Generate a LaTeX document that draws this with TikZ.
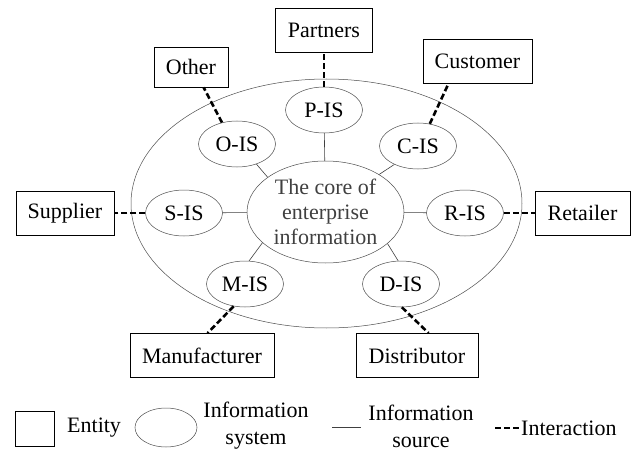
\documentclass[tikz,border=0pt]{standalone}
\usepackage{fontspec}
\setmainfont{Liberation Serif}
\usetikzlibrary{shapes.geometric}
\begin{document}
\begin{tikzpicture}[x=1pt,y=-1pt,
  every node/.style={font=\fontsize{22}{25}\selectfont, inner sep=0pt},
  entity/.style={draw=black, line width=0.8pt, rectangle, minimum height=44pt},
  isys/.style={draw=black!70, line width=0.5pt, ellipse, minimum width=77pt, minimum height=46pt},
  src/.style={draw=black!75, line width=0.6pt},
  inter/.style={draw=black, line width=2.6pt, dash pattern=on 6pt off 3pt}]
\useasboundingbox (0,0) rectangle (638,452);
% outer ellipse
\node[draw=black!70, line width=0.5pt, ellipse, minimum width=391pt, minimum height=249pt] (big) at (326.5,203.5) {};
% core
\node[isys, minimum width=157pt, minimum height=102pt, align=center, text=black!75] (core) at (325.5,212) {The core of\\enterprise\\information};
% information systems
\node[isys] (pis) at (324,110) {P-IS};
\node[isys] (ois) at (237,144) {O-IS};
\node[isys] (cis) at (418,146) {C-IS};
\node[isys] (sis) at (184,213) {S-IS};
\node[isys] (ris) at (465,213) {R-IS};
\node[isys] (mis) at (245,284) {M-IS};
\node[isys] (dis) at (401,284) {D-IS};
% entities
\node[entity, minimum width=97pt] (partners) at (324,30.5) {Partners};
\node[entity, minimum width=74pt, minimum height=40pt] (other) at (191,67) {Other};
\node[entity, minimum width=109pt] (customer) at (477.5,61) {Customer};
\node[entity, minimum width=98pt] (supplier) at (65,213) {Supplier};
\node[entity, minimum width=95pt] (retailer) at (582.5,213) {Retailer};
\node[entity, minimum width=144pt] (manufacturer) at (202,355.5) {Manufacturer};
\node[entity, minimum width=122pt] (distributor) at (417,355.5) {Distributor};
% information sources
\draw[src] (pis) -- (core);
\draw[src] (ois.-46) -- (core.149);
\draw[src] (cis.-142) -- (core.35);
\draw[src] (sis) -- (core);
\draw[src] (ris) -- (core);
\draw[src] (core.-154) -- (mis.80);
\draw[src] (core.-27) -- (dis.97);
% interactions
\draw[inter] (pis) -- (partners);
\draw[inter] (ois.125) -- ([xshift=50pt]other.south west);
\draw[inter] (cis.62) -- ([xshift=26pt]customer.south west);
\draw[inter] (sis) -- (supplier);
\draw[inter] (ris) -- (retailer);
\draw[inter] (mis.-117) -- ([xshift=78pt]manufacturer.north west);
\draw[inter] (dis.-88) -- ([xshift=73pt]distributor.north west);
% legend
\node[entity, minimum width=39pt, minimum height=35pt] (lgbox) at (35,428.5) {};
\node[anchor=west] (lgentity) at (67,428) {Entity};
\node[isys, minimum width=62pt, minimum height=39pt] (lgell) at (166,427.5) {};
\node[align=center, font=\fontsize{22}{27}\selectfont] (lgsys) at (256,426) {Information\\system};
\coordinate (lgsa) at (332,427);
\coordinate (lgsb) at (361,427);
\draw[src] (lgsa) -- (lgsb);
\node[align=center, font=\fontsize{22}{27}\selectfont] (lgsrc) at (421,426) {Information\\source};
\node[anchor=west] (lginter) at (521,428) {Interaction};
\coordinate (lgia) at (495,428);
\draw[inter] (lgia) -- (lginter.west);
\end{tikzpicture}
\end{document}
